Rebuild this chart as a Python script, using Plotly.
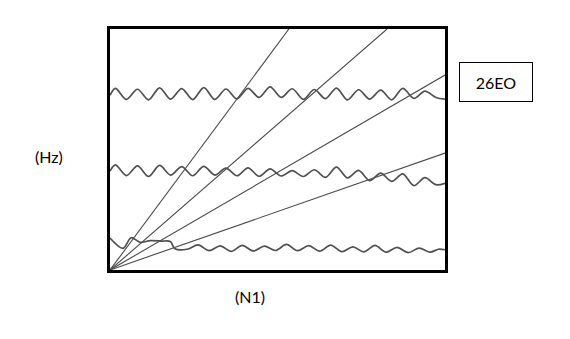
import plotly.graph_objects as go

# Engine-order rays (end points from origin)
ray_end_x = [53.4, 82.7, 100, 100]
ray_end_y = [100, 100, 80.9, 48.5]

# Wavy natural-frequency lines
top_x = [0, 1.6, 4.9, 8.2, 11.5, 14.8, 18.1, 21.4, 24.7, 28.0, 31.3, 34.6, 37.9, 41.2, 44.5, 47.8,
         51.1, 54.4, 57.7, 61.0, 64.3, 67.6, 70.9, 74.2, 77.5, 80.8, 84.1, 87.4, 90.7, 94.0, 97.3, 100]
top_y = [72.5, 75.4, 70.8, 75.0, 70.6, 75.6, 70.9, 75.3, 70.7, 75.7, 70.8, 75.1, 71.0, 75.4, 71.6, 76.0,
         71.6, 75.2, 70.8, 74.9, 71.1, 75.5, 70.6, 74.8, 70.9, 74.6, 70.6, 75.4, 71.2, 74.2, 71.6, 70.9]
mid_x = top_x
mid_y = [41.0, 43.6, 39.2, 43.2, 38.8, 43.4, 39.4, 42.9, 39.1, 43.0, 39.4, 42.3, 39.1, 42.4, 38.9, 42.0,
         39.0, 41.2, 38.8, 41.6, 38.4, 42.7, 38.2, 41.3, 37.1, 40.2, 36.8, 39.9, 35.0, 38.3, 35.4, 36.0]
bot_x = [0, 3.9, 6.3, 9.0, 12.0, 15.5, 18.0, 19.4, 23.0, 26.3, 29.6, 32.9, 36.2, 39.5, 42.8, 46.1, 49.4,
         52.7, 56.0, 59.3, 62.6, 65.9, 69.2, 72.5, 75.8, 79.1, 82.4, 85.7, 89.0, 92.3, 95.6, 98.0, 100]
bot_y = [13.3, 9.0, 13.4, 11.5, 12.2, 12.0, 11.8, 8.8, 8.6, 10.4, 8.0, 10.0, 7.7, 10.2, 7.9, 9.9, 8.1,
         10.6, 8.0, 10.1, 7.8, 10.3, 7.6, 9.6, 7.5, 10.2, 7.4, 9.4, 7.2, 9.1, 7.4, 8.6, 8.4]

fig = go.Figure()
for ex, ey in zip(ray_end_x, ray_end_y):
    fig.add_trace(go.Scatter(x=[0, ex], y=[0, ey], mode="lines",
                             line=dict(color="#4a4a4a", width=1.1), hoverinfo="skip"))
for wx, wy in [(top_x, top_y), (mid_x, mid_y), (bot_x, bot_y)]:
    fig.add_trace(go.Scatter(x=wx, y=wy, mode="lines",
                             line=dict(color="#505050", width=1.7, shape="spline", smoothing=0.9),
                             hoverinfo="skip"))

fig.update_layout(
    width=570, height=339,
    margin=dict(l=110, r=125, t=29, b=69),
    paper_bgcolor="white", plot_bgcolor="white",
    showlegend=False,
    xaxis=dict(range=[0, 100], showgrid=False, zeroline=False, showticklabels=False, ticks="",
               showline=True, mirror=True, linecolor="black", linewidth=2.5),
    yaxis=dict(range=[0, 100], showgrid=False, zeroline=False, showticklabels=False, ticks="",
               showline=True, mirror=True, linecolor="black", linewidth=2.5),
    font=dict(family="Lato, Open Sans, sans-serif", size=16, color="black"),
)

fig.add_annotation(text="(Hz)", xref="paper", yref="paper", x=-0.182, y=0.469,
                   showarrow=False, xanchor="center", yanchor="middle")
fig.add_annotation(text="(N1)", xref="paper", yref="paper", x=0.418, y=-0.112,
                   showarrow=False, xanchor="center", yanchor="middle")
fig.add_annotation(text="26EO", xref="paper", yref="paper", x=1.152, y=0.780,
                   showarrow=False, xanchor="center", yanchor="middle",
                   width=70, height=36, bordercolor="black", borderwidth=1, borderpad=1,
                   bgcolor="white")

fig.write_html("out.html")
